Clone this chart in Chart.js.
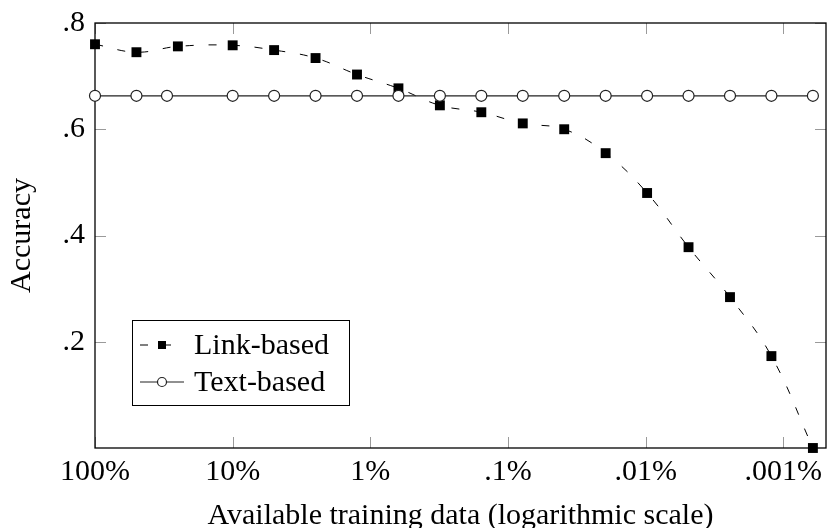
<!DOCTYPE html>
<html>
<head>
<meta charset="utf-8">
<script src="https://cdn.jsdelivr.net/npm/chart.js@4.4.0/dist/chart.umd.min.js"></script>
<style>
html, body { margin: 0; padding: 0; background: #fff; }
</style>
</head>
<body>
<canvas id="accChart" width="827" height="528"></canvas>
<script>
// share of training data used (%)
var linkX = [100, 50, 25, 10, 5, 2.5, 1.25, 0.625, 0.3125, 0.15625, 0.078125, 0.0390625,
             0.01953, 0.009766, 0.004883, 0.002441, 0.001221, 0.00061];
var linkAcc = [0.760, 0.745, 0.756, 0.758, 0.749, 0.734, 0.703, 0.677, 0.645, 0.632, 0.611, 0.600,
               0.555, 0.480, 0.378, 0.284, 0.173, 0.0];
var textX = [100, 50, 30, 10, 5, 2.5, 1.25, 0.625, 0.3125, 0.15625, 0.078125, 0.0390625,
             0.01953, 0.009766, 0.004883, 0.002441, 0.001221, 0.00061];
var textAcc = [0.663, 0.663, 0.663, 0.663, 0.663, 0.663, 0.663, 0.663, 0.663, 0.663, 0.663, 0.663,
               0.663, 0.663, 0.663, 0.663, 0.663, 0.663];

var xTickValues = [100, 10, 1, 0.1, 0.01, 0.001];
var xTickLabels = ['100%', '10%', '1%', '.1%', '.01%', '.001%'];
var yTickValues = [0.2, 0.4, 0.6, 0.8];
var yTickLabels = ['.2', '.4', '.6', '.8'];

Chart.defaults.font.family = '"Liberation Serif", "Times New Roman", serif';
Chart.defaults.font.size = 30;
Chart.defaults.color = '#000';

function toPoints(xs, ys) {
    return xs.map(function (x, i) { return { x: x, y: ys[i] }; });
}

// frame + inward ticks on all four sides, like pgfplots
var framePlugin = {
    id: 'frame',
    beforeDatasetsDraw: function (chart) {
        var ctx = chart.ctx, a = chart.chartArea;
        var xs = chart.scales.x, ys = chart.scales.y;
        var len = 11;
        ctx.save();
        ctx.strokeStyle = '#9a9a9a';
        ctx.lineWidth = 1;
        ctx.beginPath();
        xs.ticks.forEach(function (t) {
            var px = Math.round(xs.getPixelForValue(t.value)) + 0.5;
            ctx.moveTo(px, a.bottom); ctx.lineTo(px, a.bottom - len);
            ctx.moveTo(px, a.top); ctx.lineTo(px, a.top + len);
        });
        ys.ticks.forEach(function (t) {
            var py = Math.round(ys.getPixelForValue(t.value)) + 0.5;
            ctx.moveTo(a.left, py); ctx.lineTo(a.left + len, py);
            ctx.moveTo(a.right, py); ctx.lineTo(a.right - len, py);
        });
        ctx.stroke();
        ctx.strokeStyle = '#000';
        ctx.lineWidth = 1.3;
        ctx.strokeRect(a.left, a.top, a.right - a.left, a.bottom - a.top);
        ctx.restore();
    }
};

var legendPlugin = {
    id: 'boxLegend',
    afterDraw: function (chart) {
        var ctx = chart.ctx;
        var box = { x: 132, y: 320, w: 217, h: 85 };
        var rows = [345, 382];
        ctx.save();
        ctx.fillStyle = '#fff';
        ctx.fillRect(box.x, box.y, box.w, box.h);
        ctx.strokeStyle = '#000';
        ctx.lineWidth = 1;
        ctx.strokeRect(box.x + 0.5, box.y + 0.5, box.w, box.h);
        chart.data.datasets.forEach(function (ds, i) {
            var y = rows[i];
            ctx.strokeStyle = ds.borderColor;
            ctx.lineWidth = ds.borderWidth;
            ctx.setLineDash(ds.borderDash || []);
            ctx.beginPath();
            ctx.moveTo(140, y); ctx.lineTo(184, y);
            ctx.stroke();
            ctx.setLineDash([]);
            ctx.fillStyle = ds.pointBackgroundColor;
            ctx.strokeStyle = ds.pointBorderColor;
            ctx.lineWidth = ds.pointBorderWidth;
            ctx.beginPath();
            if (ds.pointStyle === 'rect') {
                ctx.rect(162 - 4, y - 4, 8, 8);
                ctx.fill();
            } else {
                ctx.arc(162, y, 4.5, 0, Math.PI * 2);
                ctx.fill();
                ctx.stroke();
            }
            ctx.fillStyle = '#000';
            ctx.font = '30px "Liberation Serif", "Times New Roman", serif';
            ctx.textBaseline = 'middle';
            ctx.fillText(ds.label, 194, y + 1);
        });
        ctx.restore();
    }
};

var config = {
    type: 'line',
    data: {
        datasets: [{
            label: 'Link-based',
            data: toPoints(linkX, linkAcc),
            order: 1,
            borderColor: '#000',
            borderWidth: 1,
            borderDash: [8, 15],
            pointStyle: 'rect',
            pointRadius: 7,
            pointBackgroundColor: '#000',
            pointBorderColor: '#000',
            pointBorderWidth: 0,
            tension: 0.4,
            clip: false
        }, {
            label: 'Text-based',
            data: toPoints(textX, textAcc),
            order: 0,
            borderColor: '#222',
            borderWidth: 1.2,
            pointStyle: 'circle',
            pointRadius: 5.5,
            pointBackgroundColor: '#fff',
            pointBorderColor: '#222',
            pointBorderWidth: 1.2,
            tension: 0,
            clip: false
        }]
    },
    options: {
        responsive: false,
        animation: false,
        events: [],
        layout: { autoPadding: false, padding: { top: 23, right: 1, left: 0, bottom: -6 } },
        plugins: {
            legend: { display: false },
            tooltip: { enabled: false }
        },
        scales: {
            x: {
                type: 'logarithmic',
                reverse: true,
                min: 0.00049,
                max: 100,
                afterBuildTicks: function (s) {
                    s.ticks = xTickValues.map(function (v) { return { value: v }; });
                },
                afterFit: function (s) {
                    s.height = 86;
                    s.paddingLeft = 0;
                    s.paddingRight = 0;
                },
                ticks: {
                    autoSkip: false,
                    maxRotation: 0,
                    padding: 6,
                    callback: function (v, i) { return xTickLabels[i]; }
                },
                grid: { display: false, drawTicks: false },
                border: { display: false },
                title: {
                    display: true,
                    text: 'Available training data (logarithmic scale)',
                    padding: 0
                }
            },
            y: {
                min: 0,
                max: 0.8,
                afterBuildTicks: function (s) {
                    s.ticks = yTickValues.map(function (v) { return { value: v }; });
                },
                afterFit: function (s) {
                    s.width = 95;
                    s.paddingTop = 0;
                    s.paddingBottom = 0;
                },
                ticks: {
                    padding: 10,
                    callback: function (v, i) { return yTickLabels[i]; }
                },
                grid: { display: false, drawTicks: false },
                border: { display: false },
                title: {
                    display: true,
                    text: 'Accuracy',
                    padding: { top: 4, bottom: 0 }
                }
            }
        }
    },
    plugins: [framePlugin, legendPlugin]
};

var ctx = document.getElementById('accChart').getContext('2d');
var accChart = new Chart(ctx, config);
</script>
</body>
</html>
